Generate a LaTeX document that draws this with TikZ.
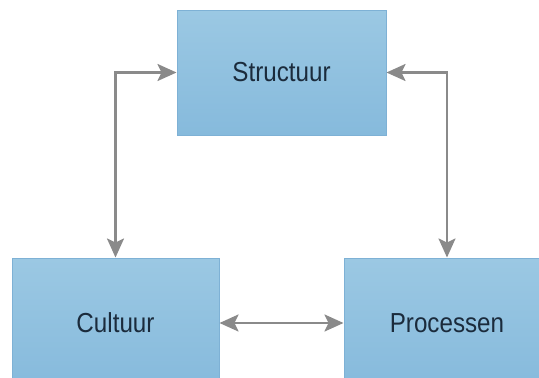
\documentclass[tikz,border=0pt]{standalone}
\usepackage{fontspec}
\setmainfont[FakeStretch=0.88]{Liberation Sans}
\usetikzlibrary{arrows.meta}
\definecolor{boxtop}{HTML}{9BC8E3}
\definecolor{boxbot}{HTML}{86BADC}
\definecolor{boxline}{HTML}{7EB1D5}
\definecolor{arrgrey}{HTML}{8A8A8A}
\definecolor{txtnavy}{HTML}{1B2B3C}
\begin{document}
\begin{tikzpicture}[x=1pt,y=-1pt,
    blok/.style={draw=boxline,line width=1pt,top color=boxtop,bottom color=boxbot,
      inner sep=0pt,text=txtnavy,font=\fontsize{27.5}{32}\selectfont},
    pijl/.style={draw=arrgrey,line width=2.4pt,{Stealth[length=19pt,width=17pt,inset=4pt]}-{Stealth[length=19pt,width=17pt,inset=4pt]}}]
    \useasboundingbox (0,0) rectangle (539,378);
    \clip (0,0) rectangle (539,378);
    \node[blok,minimum width=209pt,minimum height=125pt] (struct) at (281.5,72.5) {Structuur};
    \node[blok,minimum width=207pt,minimum height=130pt] (cult) at (115.5,323) {Cultuur};
    \node[blok,minimum width=206pt,minimum height=130pt] (proc) at (447,323) {Processen};
    \draw[pijl] (struct.west) -| (cult.north);
    \draw[pijl] (struct.east) -| (proc.north);
    \draw[pijl] (cult.east) -- (proc.west);
\end{tikzpicture}
\end{document}
